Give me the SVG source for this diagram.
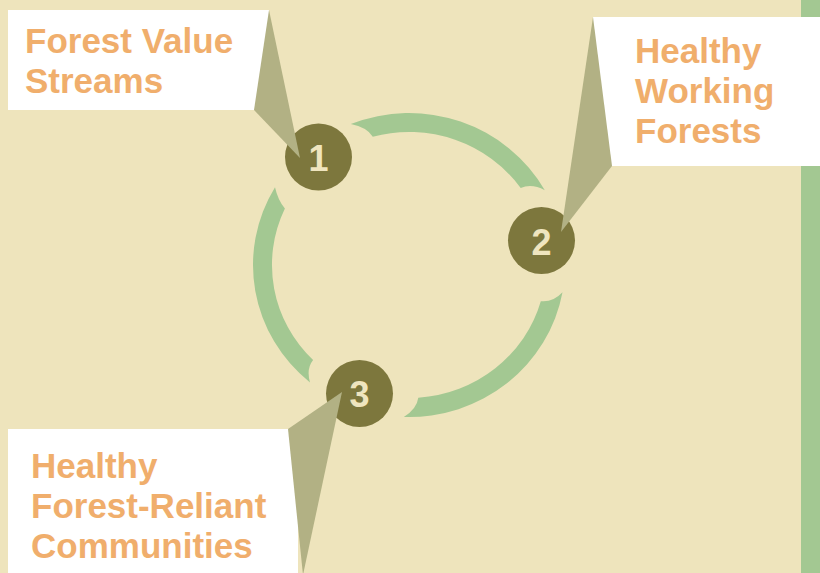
<svg xmlns="http://www.w3.org/2000/svg" width="820" height="573" viewBox="0 0 820 573">
  <style>
    .arc { fill: #a3c892; }
    .node { fill: #7d773d; }
    .num { fill: #efe5bf; font-family: "Liberation Sans", Arial, sans-serif; font-weight: bold; font-size: 36px; text-anchor: middle; }
    .box { fill: #ffffff; }
    .pointer { fill: #b2b184; }
    .label { fill: #f0ae6c; font-family: "Liberation Sans", Arial, sans-serif; font-weight: bold; font-size: 35px; }
  </style>

  <!-- page background and side bar -->
  <rect x="0" y="0" width="820" height="573" fill="#eee4bc"/>
  <rect x="801" y="0" width="19" height="573" fill="#a3c892"/>

  <!-- cycle ring segments: ellipse centre (409,265), outer 156x152, inner 137x133 -->
  <g id="connectors">
    <path class="arc" d="M 350.8,124 A 156 152 0 0 1 544.8,190.2 Q 531.7,183.2 520.7,188 A 137 133 0 0 0 372.8,136.7 Q 366.9,127.2 350.8,124 Z"/>
    <path class="arc" d="M 562.5,292.2 A 156 152 0 0 1 403.8,416.9 Q 416.8,408.9 418.3,397.7 A 137 133 0 0 0 540.8,301.2 Q 552.7,302.6 562.5,292.2 Z"/>
    <path class="arc" d="M 275,187.2 A 156 152 0 0 0 310,382.5 Q 306.1,368.7 313.1,360 A 137 133 0 0 1 284.9,208.6 Q 277.9,200.1 275,187.2 Z"/>
  </g>

  <!-- numbered nodes -->
  <g id="node-1">
    <circle class="node" cx="318.5" cy="157" r="33.5"/>
    <text class="num" x="318.5" y="170.5">1</text>
  </g>
  <g id="node-2">
    <circle class="node" cx="541.5" cy="240.5" r="33.5"/>
    <text class="num" x="541.5" y="254.5">2</text>
  </g>
  <g id="node-3">
    <circle class="node" cx="359.5" cy="393.5" r="33.5"/>
    <text class="num" x="359.5" y="407">3</text>
  </g>

  <!-- callout labels -->
  <g id="callout-1">
    <rect class="box" x="8" y="10" width="261" height="100"/>
    <polygon class="pointer" points="269,10 254,110 300,158"/>
    <text class="label" x="25" y="53">Forest Value</text>
    <text class="label" x="25" y="93">Streams</text>
  </g>
  <g id="callout-2">
    <rect class="box" x="593" y="17" width="227" height="149"/>
    <polygon class="pointer" points="593,17 612,166 561,232"/>
    <text class="label" x="635" y="63">Healthy</text>
    <text class="label" x="635" y="103">Working</text>
    <text class="label" x="635" y="143">Forests</text>
  </g>
  <g id="callout-3">
    <rect class="box" x="8" y="429" width="290" height="144"/>
    <polygon class="pointer" points="288,429 342,392 303,575"/>
    <text class="label" x="31" y="478">Healthy</text>
    <text class="label" x="31" y="518">Forest-Reliant</text>
    <text class="label" x="31" y="558">Communities</text>
  </g>
</svg>
